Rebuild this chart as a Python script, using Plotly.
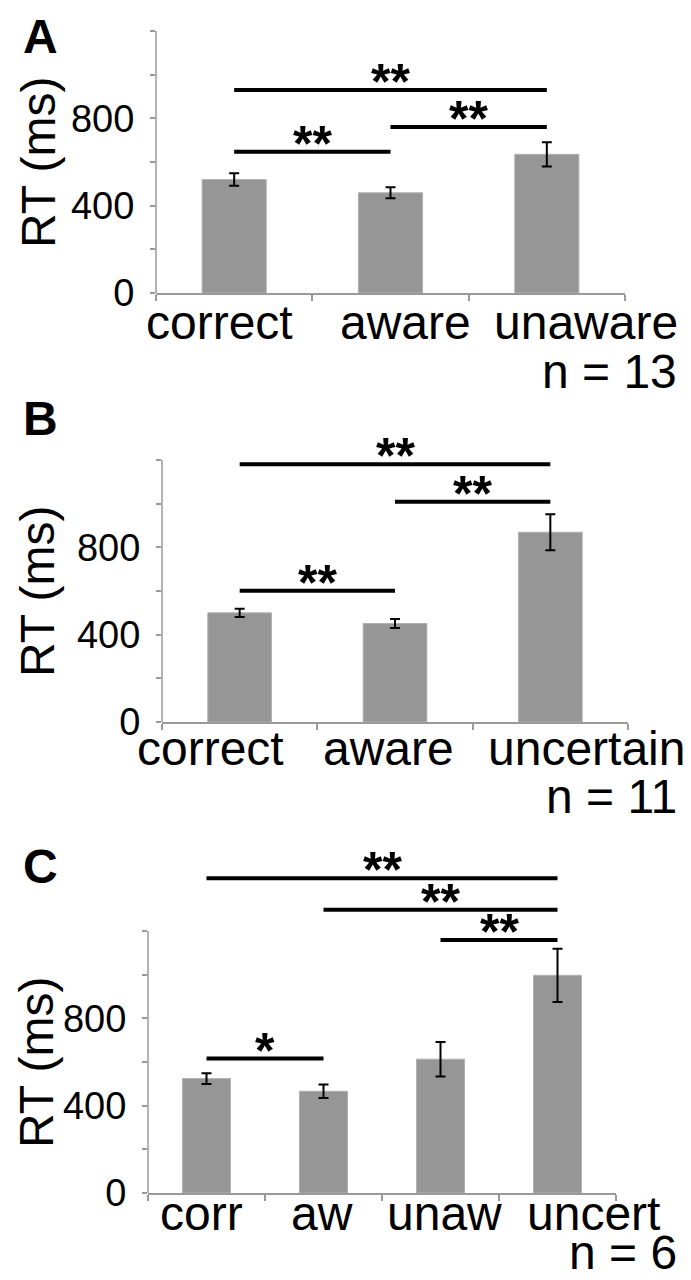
import plotly.graph_objects as go

# ---------------- data ----------------
cats_a = ["correct", "aware", "unaware"]
rt_a = [520, 459, 635]
err_a = [29, 25, 56]
sig_a = [(0, 2, 930, "**"), (0, 1, 647, "**"), (1, 2, 760, "**")]
n_a = "n = 13"

cats_b = ["correct", "aware", "uncertain"]
rt_b = [500, 451, 869]
err_b = [19, 21, 82]
sig_b = [(0, 2, 1180, "**"), (1, 2, 1009, "**"), (0, 1, 601, "**")]
n_b = "n = 11"

cats_c = ["corr", "aw", "unaw", "uncert"]
rt_c = [524, 466, 613, 997]
err_c = [25, 31, 79, 122]
sig_c = [(0, 3, 1442, "**"), (1, 3, 1297, "**"), (2, 3, 1159, "**"), (0, 1, 616, "*")]
n_c = "n = 6"

y_tickvals = [0, 200, 400, 600, 800, 1000, 1200]
y_ticktext = ["0", "", "400", "", "800", "", ""]
panel_letters = ["A", "B", "C"]
y_title = "RT (ms)"

# ---------------- layout geometry ----------------
# The page body has an 8px margin, so the figure is placed at (8, 8);
# coordinates below are page pixels and converted to figure pixels.
OFF = 8
W, H = 691 - OFF, 1280 - OFF
FONT = "Liberation Sans, Arial, sans-serif"
BAR = "#969696"
AX = "#9a9a9a"


def fx(px):
    return (px - OFF) / W


def fy(py):
    return 1 - (py - OFF) / H


panels = [
    dict(cats=cats_a, rt=rt_a, err=err_a, sig=sig_a, n=n_a,
         x0=156, x1=625, y0=293, ymax=1200, letter_y=None, n_y=371, title_x=38,
         lab_shift=[-15, 15, 39], lab_y=323),
    dict(cats=cats_b, rt=rt_b, err=err_b, sig=sig_b, n=n_b,
         x0=162, x1=628, y0=722, ymax=1300, letter_y=418, n_y=797, title_x=38,
         lab_shift=[-29, -7, 36], lab_y=748),
    dict(cats=cats_c, rt=rt_c, err=err_c, sig=sig_c, n=n_c,
         x0=148, x1=616, y0=1193, ymax=1560, letter_y=866, n_y=1252, title_x=36,
         lab_shift=[-5, -2, 4, 36], lab_y=1213),
]
PX_PER_UNIT = 262 / 1200.0

fig = go.Figure()
shapes = []
annotations = []
layout = {}

for i, p in enumerate(panels):
    k = "" if i == 0 else str(i + 1)
    xa, ya = "x" + k, "y" + k
    top_px = p["y0"] - p["ymax"] * PX_PER_UNIT
    xdom = [fx(p["x0"]), fx(p["x1"])]
    ydom = [fy(p["y0"]), fy(top_px)]

    fig.add_trace(go.Bar(
        x=p["cats"], y=p["rt"], xaxis=xa, yaxis=ya,
        marker=dict(color=BAR, line=dict(color="#b0b0b0", width=1)),
        width=0.41,
        error_y=dict(type="data", array=p["err"], visible=True,
                     color="black", thickness=2, width=5),
        showlegend=False, hoverinfo="skip",
    ))

    layout["xaxis" + k] = dict(
        domain=xdom, anchor=ya, type="category",
        range=[-0.5, len(p["cats"]) - 0.5],
        showline=True, linecolor=AX, linewidth=1.5,
        ticks="outside", tickson="boundaries", ticklen=6, tickcolor=AX, tickwidth=1.5,
        showticklabels=False, automargin=False,
        showgrid=False, zeroline=False, fixedrange=True,
    )
    layout["yaxis" + k] = dict(
        domain=ydom, anchor=xa, range=[0, p["ymax"]],
        tickmode="array", tickvals=y_tickvals, ticktext=y_ticktext,
        ticks="outside", ticklen=5, tickcolor=AX, tickwidth=1.5,
        ticklabelstandoff=8, automargin=False,
        tickfont=dict(family=FONT, size=38, color="black"),
        showline=False, showgrid=False, zeroline=False, fixedrange=True,
    )

    # category labels (Excel-style spread under the axis)
    for j, c in enumerate(p["cats"]):
        annotations.append(dict(xref=xa, yref="paper", x=j, y=fy(p["lab_y"]),
                                text=c, showarrow=False, xshift=p["lab_shift"][j],
                                xanchor="center", yanchor="middle",
                                font=dict(family=FONT, size=48, color="black")))

    # y axis line only from 0 to 1200
    shapes.append(dict(type="line", xref=xa + " domain", yref=ya,
                       x0=0, x1=0, y0=0, y1=y_tickvals[-1],
                       line=dict(color=AX, width=1.5)))

    # significance bars
    for (a, b, yv, lab) in p["sig"]:
        shapes.append(dict(type="line", xref=xa, yref=ya,
                           x0=a, x1=b, y0=yv, y1=yv,
                           line=dict(color="black", width=4)))
        annotations.append(dict(xref=xa, yref=ya, x=(a + b) / 2, y=yv,
                                text=lab, showarrow=False,
                                yanchor="bottom", yshift=-22,
                                font=dict(family=FONT, size=50, color="black", weight="bold")))

    # panel letter
    if p["letter_y"] is None:
        letter_pos = dict(y=1, yanchor="top")
    else:
        letter_pos = dict(y=fy(p["letter_y"]), yanchor="middle")
    annotations.append(dict(xref="paper", yref="paper", x=fx(40),
                            text=panel_letters[i], showarrow=False,
                            xanchor="center", **letter_pos,
                            font=dict(family=FONT, size=48, color="black", weight="bold")))
    # n label
    annotations.append(dict(xref="paper", yref="paper", x=fx(679), y=fy(p["n_y"]),
                            text=p["n"], showarrow=False,
                            xanchor="right", yanchor="middle",
                            font=dict(family=FONT, size=48, color="black")))
    # y title
    ymid_px = p["y0"] - 600 * PX_PER_UNIT
    annotations.append(dict(xref="paper", yref="paper", x=fx(p["title_x"]), y=fy(ymid_px),
                            text=y_title, showarrow=False, textangle=-90,
                            xanchor="center", yanchor="middle",
                            font=dict(family=FONT, size=48, color="black")))

fig.update_layout(
    width=W, height=H,
    margin=dict(l=0, r=0, t=0, b=0, pad=0, autoexpand=False),
    paper_bgcolor="white", plot_bgcolor="white",
    shapes=shapes, annotations=annotations,
    **layout,
)

fig.write_html("out.html", config={"displayModeBar": False})
